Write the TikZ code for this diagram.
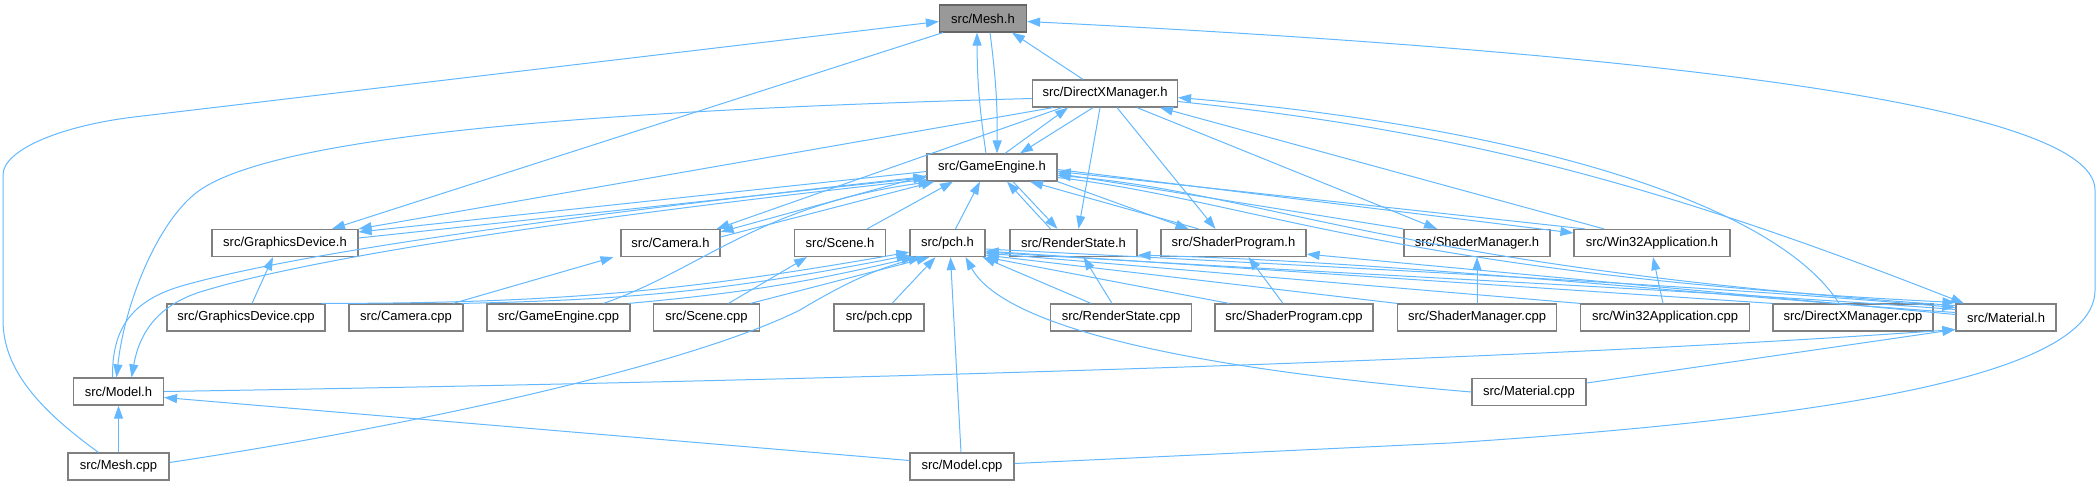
\documentclass[tikz,border=0pt]{standalone}
\usepackage{fontspec}
\setmainfont{Liberation Sans}
\usetikzlibrary{arrows.meta}
\definecolor{EdgeBlue}{HTML}{63B8FF}
\definecolor{BoxLine}{HTML}{808080}
\definecolor{RootFill}{HTML}{999999}
\definecolor{RootLine}{HTML}{666666}

\begin{document}
\begin{tikzpicture}[x=1pt,y=-1pt,
  filebox/.style={draw=BoxLine,fill=white,line width=1.2pt,minimum height=27pt,inner sep=0pt,font=\fontsize{13}{15}\selectfont},
  rootbox/.style={filebox,draw=RootLine,fill=RootFill},
  incl/.style={draw=EdgeBlue,line width=1pt,-{Triangle[length=13pt,width=9pt]}}]
  \useasboundingbox (0,0) rectangle (2100,485);
  % top headers
  \node[rootbox,minimum width=87pt] (mesh) at (983,18.5) {src/Mesh.h};
  \node[filebox,minimum width=145pt] (dxm) at (1105,93.5) {src/DirectXManager.h};
  \node[filebox,minimum width=130pt] (ge) at (992,167.5) {src/GameEngine.h};
  % header row
  \foreach \n/\t/\x/\w in {gdh/GraphicsDevice.h/285/146, camh/Camera.h/670.5/99,
      sceneh/Scene.h/840/91, pchh/pch.h/947.5/75, rsh/RenderState.h/1073.5/127,
      sph/ShaderProgram.h/1233.5/145, smh/ShaderManager.h/1477/146,
      w32h/Win32Application.h/1652/156}
    {\node[filebox,minimum width=\w pt] (\n) at (\x,243) {src/\t};}
  % source row
  \foreach \n/\t/\x/\w in {gdcpp/GraphicsDevice.cpp/246/158, camcpp/Camera.cpp/406/114,
      gecpp/GameEngine.cpp/558.5/143, scenecpp/Scene.cpp/706.5/106, pchcpp/pch.cpp/879/90,
      rscpp/RenderState.cpp/1121/141, spcpp/ShaderProgram.cpp/1294/158,
      smcpp/ShaderManager.cpp/1477/159, w32cpp/Win32Application.cpp/1665/169,
      dxmcpp/DirectXManager.cpp/1853/160, math/Material.h/2006/100}
    {\node[filebox,minimum width=\w pt] (\n) at (\x,317.5) {src/\t};}
  % lower rows
  \node[filebox,minimum width=90pt] (modelh) at (118.5,391.5) {src/Model.h};
  \node[filebox,minimum width=114pt] (matcpp) at (1529,392) {src/Material.cpp};
  \node[filebox,minimum width=101pt] (meshcpp) at (118.5,466.5) {src/Mesh.cpp};
  \node[filebox,minimum width=104pt] (modelcpp) at (962,466.5) {src/Model.cpp};

  % into Mesh.h
  \draw[incl] ([xshift=-6pt]ge.north) to[bend left=4] ([xshift=-6pt]mesh.south);
  \draw[incl] ([xshift=7pt]mesh.south) to[bend left=4] ([xshift=5pt]ge.north);
  \draw[incl] ([xshift=-22pt]dxm.north) -- ([xshift=29pt]mesh.south);
  \draw[incl] ([xshift=-40pt]mesh.south) -- ([xshift=47pt]gdh.north);
  \draw[incl] ([xshift=-20pt]meshcpp.north) .. controls (40,410) and (3,370) .. (3,320) -- (3,175)
    .. controls (3,150) and (60,126) .. (134,117) -- ([yshift=-3pt]mesh.west);
  \draw[incl] ([yshift=3pt]modelcpp.east) -- (1450,443) .. controls (1800,420) and (2095,380) .. (2095,290)
    -- (2095,190) .. controls (2095,100) and (1600,50) .. ([yshift=-3pt]mesh.east);

  % DirectXManager.h
  \draw[incl] ([yshift=-5pt]dxm.west) .. controls (600,110) and (280,135) .. (200,190)
    .. controls (160,217.5) and (125,300) .. ([xshift=-2pt]modelh.north);
  \draw[incl] ([xshift=-52pt]dxm.south) -- (gdh.north east);
  \draw[incl] ([xshift=-43pt]dxm.south) -- ([xshift=-4pt]camh.north east);
  \draw[incl] ([xshift=13pt]ge.north) -- ([xshift=-37pt]dxm.south);
  \draw[incl] ([xshift=-12pt]dxm.south) -- ([xshift=28pt]ge.north);
  \draw[incl] ([xshift=-5pt]dxm.south) -- ([xshift=5pt]rsh.north);
  \draw[incl] ([xshift=12pt]dxm.south) -- ([xshift=-18pt]sph.north);
  \draw[incl] ([xshift=32pt]dxm.south) -- ([xshift=-40pt]smh.north);
  \draw[incl] ([xshift=-48pt]w32h.north) -- ([xshift=55pt]dxm.south);
  \draw[incl] ([xshift=-14pt]dxmcpp.north) .. controls (1780,210) and (1550,130) .. ([yshift=-4pt]dxm.east);
  \draw[incl] ([yshift=-8pt]dxm.east) .. controls (1450,130) and (1650,180) .. ([xshift=-42pt]math.north);

  % GameEngine.h
  \draw[incl] ([yshift=-4pt]ge.west) -- ([yshift=11pt]gdh.east);
  \draw[incl] ([yshift=5pt]gdh.east) -- ([yshift=-10pt]ge.west);
  \draw[incl] ([yshift=-8pt]ge.west) -- ([yshift=-3pt]camh.north east);
  \draw[incl] ([yshift=6pt]camh.east) -- ([xshift=8pt]ge.south west);
  \draw[incl] ([yshift=-12pt]ge.west) .. controls (600,215) and (320,255) .. (200,292)
    .. controls (160,305) and (140,330) .. ([xshift=13pt]modelh.north);
  \draw[incl] ([xshift=-6pt]modelh.north) .. controls (112,330) and (130,300) .. (185,285)
    .. controls (310,250) and (600,212) .. ([yshift=-9pt]ge.west);
  \draw[incl] ([xshift=45pt]gecpp.north) .. controls (700,270) and (760,205) .. ([xshift=5pt]ge.south west);
  \draw[incl] ([xshift=27pt]sceneh.north) -- ([xshift=-39pt]ge.south);
  \draw[incl] ([xshift=8pt]pchh.north) -- ([xshift=-12pt]ge.south);
  \draw[incl] ([xshift=-23pt]rsh.north) -- ([xshift=15pt]ge.south);
  \draw[incl] ([xshift=21pt]ge.south) -- ([xshift=-16pt]rsh.north);
  \draw[incl] (ge.south east) -- ([xshift=-45pt]sph.north);
  \draw[incl] ([xshift=-35pt]sph.north) -- ([xshift=38pt]ge.south);
  \draw[incl] (smh.north west) -- ([yshift=-6pt]ge.east);
  \draw[incl] ([yshift=-2pt]ge.east) -- ([yshift=10pt]w32h.west);
  \draw[incl] ([xshift=-67pt]w32h.north) -- ([yshift=-4pt]ge.east);
  \draw[incl] ([yshift=-10pt]ge.east) .. controls (1250,200) and (1400,275) .. ([yshift=15pt]math.west);
  \draw[incl] ([yshift=12pt]math.west) .. controls (1400,268) and (1260,192) .. ([yshift=-8pt]ge.east);

  % Material.h
  \draw[incl] ([yshift=-6pt]pchh.east) .. controls (1300,265) and (1700,285) .. ([yshift=10pt]math.west);
  \draw[incl] ([yshift=8pt]math.west) .. controls (1700,290) and (1300,272) .. ([yshift=-9pt]pchh.east);
  \draw[incl] ([yshift=5pt]math.west) .. controls (1700,295) and (1400,262) .. ([yshift=2pt]rsh.south east);
  \draw[incl] ([yshift=3pt]math.west) -- ([yshift=3pt]sph.south east);
  \draw[incl] (modelh.east) .. controls (1000,378) and (1600,355) .. ([yshift=-12pt]math.west);
  \draw[incl] ([yshift=9pt]matcpp.east) -- ([yshift=-12pt]math.west);

  % Model.h and the lower sources
  \draw[incl] (matcpp.west) .. controls (1150,365) and (1000,320) .. ([xshift=18pt]pchh.south);
  \draw[incl] ([xshift=-1pt]modelcpp.north) -- ([xshift=3pt]pchh.south);
  \draw[incl] ([yshift=6pt]modelcpp.west) -- ([yshift=-6pt]modelh.east);
  \draw[incl] (meshcpp.north) -- (modelh.south);
  \draw[incl] ([yshift=4pt]meshcpp.east) .. controls (450,420) and (700,360) .. (800,310)
    .. controls (850,280) and (880,268) .. ([xshift=12pt]pchh.south west);

  % source row into headers and pch.h
  \draw[incl] ([xshift=6pt]gdcpp.north) -- ([xshift=-12pt]gdh.south);
  \draw[incl] ([xshift=-4pt]gdcpp.north east) to[bend right=5] ([yshift=5pt]pchh.south west);
  \draw[incl] ([xshift=47pt]camcpp.north) -- ([xshift=-57pt]camh.south);
  \draw[incl] ([xshift=-2pt]camcpp.north east) to[bend right=5] ([yshift=2pt]pchh.south west);
  \draw[incl] ([xshift=-2pt]gecpp.north east) to[bend right=4] ([xshift=5pt]pchh.south west);
  \draw[incl] ([xshift=22pt]scenecpp.north) -- ([xshift=-33pt]sceneh.south);
  \draw[incl] ([xshift=44pt]scenecpp.north) -- ([xshift=20pt]pchh.south west);
  \draw[incl] ([xshift=13pt]pchcpp.north) -- ([xshift=-12pt]pchh.south);
  \draw[incl] ([xshift=-9pt]rscpp.north) -- ([xshift=10pt]rsh.south);
  \draw[incl] ([xshift=-30pt]rscpp.north) -- ([xshift=-3pt]pchh.south east);
  \draw[incl] ([xshift=-11pt]spcpp.north) -- ([xshift=15pt]sph.south);
  \draw[incl] ([xshift=-65pt]spcpp.north) -- (pchh.south east);
  \draw[incl] (smcpp.north) -- (smh.south);
  \draw[incl] (smcpp.north west) -- ([yshift=2pt]pchh.south east);
  \draw[incl] ([xshift=-2pt]w32cpp.north) -- ([xshift=1pt]w32h.south);
  \draw[incl] (w32cpp.north west) -- ([yshift=4pt]pchh.south east);
  \draw[incl] (dxmcpp.north west) -- ([yshift=6pt]pchh.south east);
\end{tikzpicture}
\end{document}
